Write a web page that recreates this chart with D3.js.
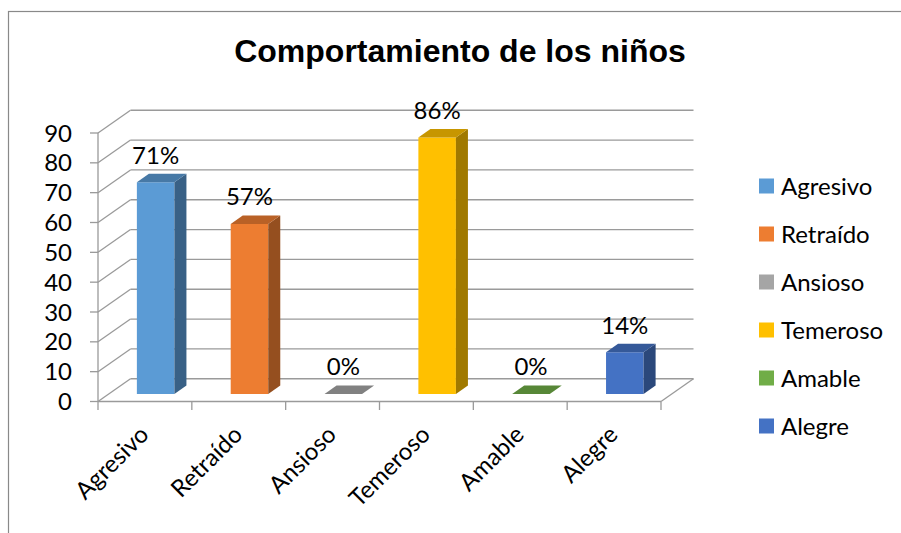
<!DOCTYPE html>
<html>
<head>
<meta charset="utf-8">
<script src="https://cdnjs.cloudflare.com/ajax/libs/d3/7.8.5/d3.min.js"></script>
<style>
  html, body { margin: 0; padding: 0; background: #fff; }
  svg { display: block; }
</style>
</head>
<body>
<svg id="chart" width="901" height="533"></svg>
<script>
const title = "Comportamiento de los niños";
const categories = ["Agresivo", "Retraído", "Ansioso", "Temeroso", "Amable", "Alegre"];
const values = [71, 57, 0, 86, 0, 14];
const valueLabels = ["71%", "57%", "0%", "86%", "0%", "14%"];
const colors = ["#5B9BD5", "#ED7D31", "#A5A5A5", "#FFC000", "#70AD47", "#4472C4"];
const yTicks = [0, 10, 20, 30, 40, 50, 60, 70, 80, 90];

const svg = d3.select("#chart");
const FONT = "Lato, 'Open Sans', sans-serif";
const FS = 24;

// chart border
svg.append("rect").attr("x", 8.5).attr("y", 11.5).attr("width", 1000).attr("height", 1000)
  .attr("fill", "none").attr("stroke", "#898989").attr("stroke-width", 1.2);

// title
svg.append("text").attr("x", 460).attr("y", 62).attr("text-anchor", "middle")
  .attr("font-family", "'Liberation Sans', Arial, sans-serif").attr("font-weight", "bold")
  .attr("font-size", 32).attr("fill", "#000").text(title);

// 3D projection
const DX = 32.5, DY = -22.75;     // full depth offset
const d0 = 0.33, d1 = 0.70;       // bar depth span
const x = d3.scaleBand().domain(categories).range([98, 661]).paddingInner(0.6).paddingOuter(0.3);
const y = d3.scaleLinear().domain([0, 90]).range([401.5, 133]);
const step = x.step();
const xL = 98, xR = 661;

const grid = svg.append("g").attr("stroke", "#9a9a9a").attr("stroke-width", 1.3).attr("fill", "none");
// back wall gridlines + side wall diagonals
yTicks.forEach(v => {
  grid.append("line").attr("x1", xL + DX).attr("y1", y(v) + DY).attr("x2", xR + DX).attr("y2", y(v) + DY);
  grid.append("line").attr("x1", xL).attr("y1", y(v)).attr("x2", xL + DX).attr("y2", y(v) + DY);
});
// floor front edge and right edge
grid.append("line").attr("x1", xL).attr("y1", y(0)).attr("x2", xR).attr("y2", y(0));
grid.append("line").attr("x1", xR).attr("y1", y(0)).attr("x2", xR + DX).attr("y2", y(0) + DY);
// front vertical axis
grid.append("line").attr("x1", xL).attr("y1", y(0)).attr("x2", xL).attr("y2", y(90));
// y ticks
yTicks.forEach(v => {
  grid.append("line").attr("x1", xL - 8).attr("y1", y(v)).attr("x2", xL).attr("y2", y(v));
});
// x ticks
d3.range(categories.length + 1).forEach(i => {
  const xx = xL + i * step;
  grid.append("line").attr("x1", xx).attr("y1", y(0)).attr("x2", xx).attr("y2", y(0) + 8.5);
});

// y tick labels
svg.append("g").selectAll("text").data(yTicks).join("text")
  .attr("x", 72).attr("y", d => y(d)).attr("dy", "0.36em").attr("text-anchor", "end")
  .attr("font-family", FONT).attr("font-size", FS).attr("fill", "#000").text(d => d);

// bars
const bars = svg.append("g");
categories.forEach((c, i) => {
  const v = values[i];
  const col = d3.color(colors[i]);
  const front = col.copy();
  const side = col.darker(1.3);
  const top = col.darker(0.7);
  const xl = x(c), xr = x(c) + x.bandwidth();
  const yt = y(v), yb = y(0);
  const P = (px, py, d) => [px + d * DX, py + d * DY];
  const poly = pts => "M" + pts.map(p => p.join(",")).join("L") + "Z";
  if (v > 0) {
    bars.append("path").attr("d", poly([P(xl, yt, d0), P(xr, yt, d0), P(xr, yb, d0), P(xl, yb, d0)]))
      .attr("fill", front);
    bars.append("path").attr("d", poly([P(xr, yt, d0), P(xr, yt, d1), P(xr, yb, d1), P(xr, yb, d0)]))
      .attr("fill", side);
  }
  bars.append("path").attr("d", poly([P(xl, yt, d0), P(xr, yt, d0), P(xr, yt, d1), P(xl, yt, d1)]))
    .attr("fill", top);
  // value label
  const [lx, ly] = P((xl + xr) / 2, yt, d0);
  svg.append("text").attr("x", lx).attr("y", ly - 18.5).attr("text-anchor", "middle")
    .attr("font-family", FONT).attr("font-size", FS).attr("fill", "#000").text(valueLabels[i]);
});

// category labels
svg.append("g").selectAll("text").data(categories).join("text")
  .attr("transform", d => `translate(${x(d) + x.bandwidth() / 2 - 1}, 430) rotate(-45)`)
  .attr("dy", "0.36em").attr("text-anchor", "end")
  .attr("font-family", FONT).attr("font-size", FS).attr("fill", "#000").text(d => d);

// legend
const lg = svg.append("g");
categories.forEach((c, i) => {
  const cy = 186 + i * 48;
  lg.append("rect").attr("x", 759).attr("y", cy - 7.5).attr("width", 15).attr("height", 15).attr("fill", colors[i]);
  lg.append("text").attr("x", 781).attr("y", cy).attr("dy", "0.36em")
    .attr("font-family", FONT).attr("font-size", FS).attr("fill", "#000").text(c);
});
</script>
</body>
</html>
